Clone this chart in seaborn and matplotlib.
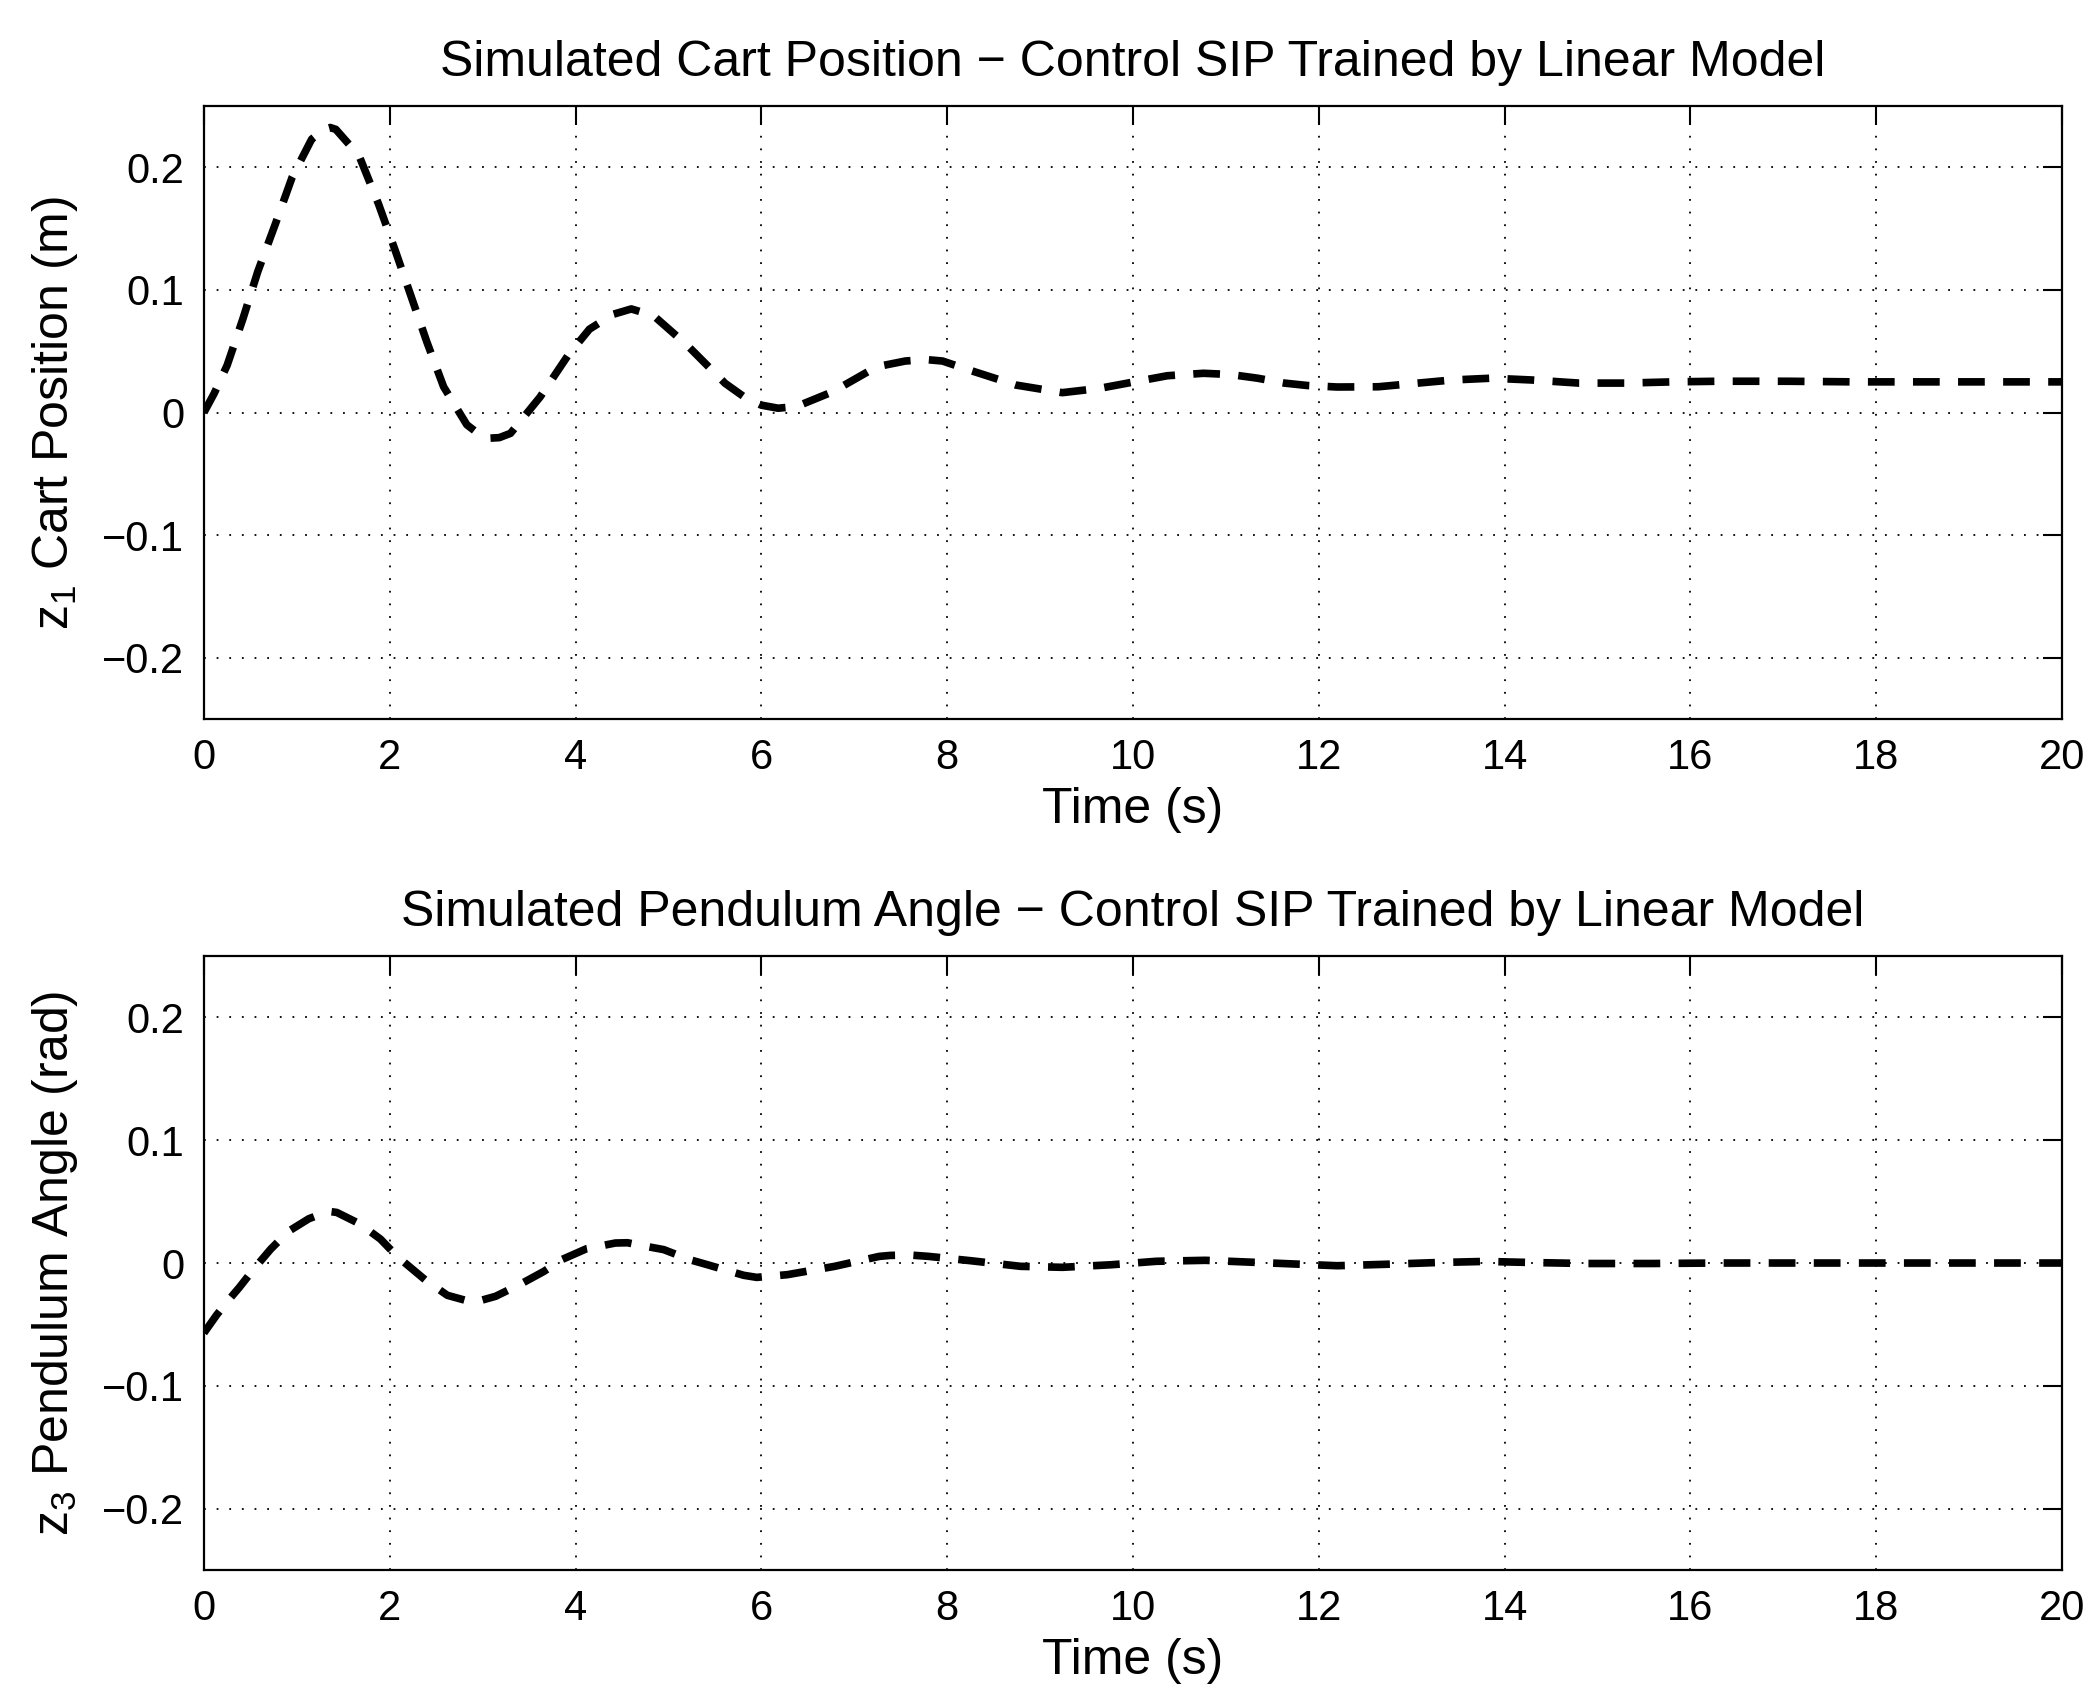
import numpy as np
import pandas as pd
import seaborn as sns
import matplotlib.pyplot as plt

# digitised cart position z1 (m)
t_cart = [0.0, 0.11, 0.25, 0.42, 0.58, 0.77, 0.95, 1.16, 1.29, 1.36, 1.42, 1.67, 1.88,
          2.06, 2.22, 2.40, 2.58, 2.83, 2.95, 3.06, 3.18, 3.30, 3.62, 3.92, 4.15, 4.40,
          4.60, 4.84, 5.2, 5.61, 5.81, 6.0, 6.18, 6.38, 6.77, 7.24, 7.55, 7.77, 7.95,
          8.24, 8.74, 9.24, 9.64, 10.12, 10.37, 10.76, 11.05, 11.34, 11.63, 11.88,
          12.2, 12.64, 13.07, 13.43, 13.86, 14.3, 14.8, 15.3, 15.81, 16.3, 17.04,
          17.76, 18.48, 19.2, 20.0]
z1 = [0.0, 0.0155, 0.0385, 0.0765, 0.115, 0.154, 0.192, 0.223, 0.231, 0.2325, 0.231, 0.2095, 0.170,
      0.132, 0.097, 0.0575, 0.021, -0.010, -0.017, -0.021, -0.0205, -0.017, 0.0128, 0.0467, 0.068, 0.080,
      0.0845, 0.079, 0.055, 0.0238, 0.013, 0.006, 0.0035, 0.0049, 0.017, 0.0373, 0.042, 0.0432, 0.042,
      0.0346, 0.0224, 0.0162, 0.0197, 0.0265, 0.030, 0.032, 0.031, 0.028, 0.024, 0.022,
      0.0208, 0.021, 0.024, 0.0265, 0.028, 0.0265, 0.024, 0.024, 0.025, 0.0255, 0.0255,
      0.025, 0.025, 0.025, 0.025]

# digitised pendulum angle z3 (rad)
t_pend = [0.0, 0.14, 0.29, 0.38, 0.54, 0.72, 0.91, 1.13, 1.31, 1.37, 1.43, 1.68, 1.90,
          2.08, 2.38, 2.62, 2.83, 2.98, 3.14, 3.41, 3.66, 3.85, 4.12, 4.43, 4.56, 4.70, 4.95,
          5.23, 5.42, 5.81, 5.95, 6.28, 6.79, 7.27, 7.39, 7.6, 7.8, 8.25, 8.79, 9.24,
          9.77, 10.25, 10.78, 11.23, 11.77, 12.2, 12.78, 13.28, 13.79, 14.3, 14.87,
          15.59, 16.3, 17.5, 18.5, 20.0]
z3 = [-0.057, -0.042, -0.028, -0.020, -0.0046, 0.0114, 0.0258, 0.0361, 0.0412, 0.0418, 0.0412, 0.0318, 0.0195,
      0.0054, -0.0136, -0.0263, -0.0307, -0.0305, -0.0271, -0.0171, -0.0068, 0.0027, 0.0117, 0.0163, 0.0165, 0.0144, 0.0109,
      0.0027, -0.0014, -0.010, -0.0117, -0.0095, -0.0027, 0.0054, 0.0062, 0.0065, 0.0054, 0.0019, -0.0027, -0.0035,
      -0.0014, 0.0014, 0.0022, 0.0008, -0.0009, -0.0022, -0.0009, 0.0004, 0.0013, 0.0004, -0.0004,
      -0.0004, 0.0, 0.0, 0.0, 0.0]

x_ticks = list(range(0, 21, 2))
y_ticks = [-0.2, -0.1, 0, 0.1, 0.2]
y_tick_labels = ["\u22120.2", "\u22120.1", "0", "0.1", "0.2"]

panels = [
    (t_cart, z1, "Simulated Cart Position \u2212 Control SIP Trained by Linear Model",
     "z$_1$ Cart Position (m)"),
    (t_pend, z3, "Simulated Pendulum Angle \u2212 Control SIP Trained by Linear Model",
     "z$_3$ Pendulum Angle (rad)"),
]

sns.set_style("white")
plt.rcParams["font.family"] = ["Liberation Sans", "DejaVu Sans"]
plt.rcParams["mathtext.fontset"] = "custom"
plt.rcParams["mathtext.rm"] = "Liberation Sans"
plt.rcParams["mathtext.default"] = "regular"
plt.rcParams["text.color"] = "black"
plt.rcParams["axes.labelcolor"] = "black"

fig = plt.figure(figsize=(21, 17), dpi=100)
positions = [[0.0971, 0.5771, 0.8848, 0.3605],
             [0.0971, 0.0765, 0.8848, 0.3611]]

for (t, z, title, ylabel), pos in zip(panels, positions):
    ax = fig.add_axes(pos)
    df = pd.DataFrame({"t": t, "z": z})
    sns.lineplot(data=df, x="t", y="z", ax=ax, color="black", lw=5.5,
                 linestyle=(0, (3.5, 2.4)), dash_capstyle="butt")
    ax.set_xlim(0, 20)
    ax.set_ylim(-0.25, 0.25)
    ax.set_xticks(x_ticks)
    ax.set_yticks(y_ticks)
    ax.set_yticklabels(y_tick_labels)
    ax.grid(True, color="black", linestyle=(0, (1, 6)), linewidth=1.3)
    ax.tick_params(direction="in", length=14, width=1.5, top=True, right=True,
                   labelsize=30, pad=14, colors="black")
    for s in ax.spines.values():
        s.set_linewidth(1.6)
        s.set_color("black")
    ax.set_title(title, fontsize=36, pad=22)
    ax.set_xlabel("Time (s)", fontsize=36, labelpad=6)
    ax.set_ylabel(ylabel, fontsize=36, labelpad=16)

fig.savefig("out.png", dpi=100, facecolor="white")
